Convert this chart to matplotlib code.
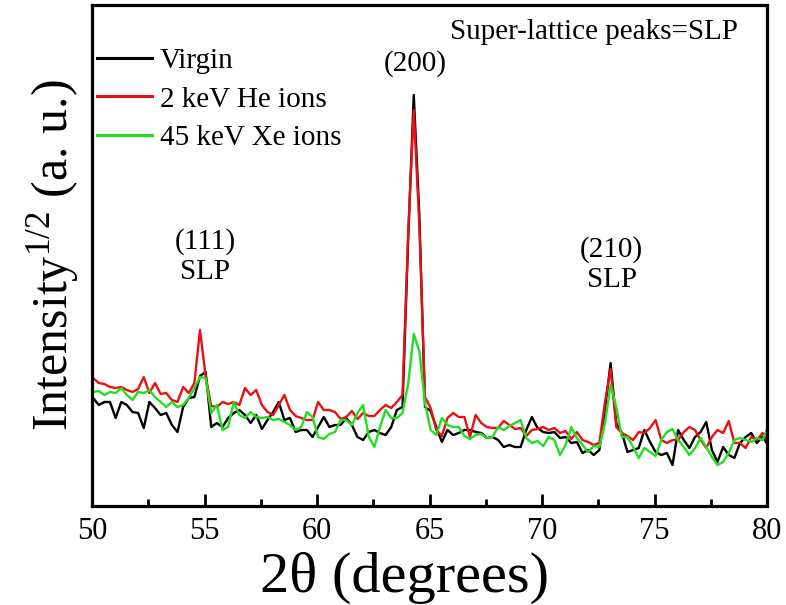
import numpy as np
import matplotlib
matplotlib.use("Agg")
import matplotlib.pyplot as plt
from matplotlib.ticker import MultipleLocator, NullLocator

plt.rcParams['font.family'] = ['Liberation Serif', 'DejaVu Serif']
plt.rcParams['mathtext.fontset'] = 'custom'
plt.rcParams['mathtext.rm'] = 'Liberation Serif'
plt.rcParams['mathtext.it'] = 'Liberation Serif:italic'

# 2-theta sampling (degrees)
two_theta = np.arange(49.8, 80.1, 0.25)

virgin = [106, 108, 101, 104, 104, 88, 104, 101, 94, 93, 78, 104, 98, 91, 93, 81, 74, 99, 108, 109,
          130, 134, 79, 83, 79, 88, 93, 96, 91, 83, 91, 77, 86, 94, 104, 86, 88, 74, 76, 76,
          69, 79, 89, 79, 81, 81, 88, 81, 69, 66, 74, 76, 73, 71, 79, 96, 99, 265, 411, 290,
          99, 95, 79, 64, 76, 71, 73, 76, 76, 74, 73, 68, 69, 66, 59, 61, 59, 59, 76, 89,
          78, 74, 73, 74, 68, 69, 63, 64, 53, 56, 51, 56, 97, 143, 83, 73, 54, 56, 58, 76,
          64, 54, 51, 53, 41, 76, 66, 58, 69, 74, 84, 56, 44, 59, 51, 48, 63, 69, 73, 63,
          69, 61]

he_2kev = [127, 128, 123, 122, 119, 118, 119, 116, 114, 117, 129, 113, 123, 112, 113, 106, 104, 119, 113, 123,
           176, 130, 100, 99, 104, 102, 104, 101, 118, 111, 116, 101, 94, 91, 101, 111, 96, 90, 88, 86,
           86, 104, 96, 96, 94, 87, 89, 95, 87, 93, 90, 90, 96, 101, 98, 104, 111, 272, 396, 280,
           109, 98, 76, 70, 88, 93, 89, 89, 69, 91, 83, 79, 78, 78, 85, 81, 77, 78, 70, 76,
           77, 79, 76, 78, 73, 75, 67, 74, 66, 64, 61, 63, 104, 137, 79, 73, 70, 66, 74, 73,
           78, 86, 66, 63, 66, 66, 74, 79, 76, 66, 58, 69, 76, 73, 85, 63, 63, 58, 69, 66,
           73, 63]

xe_45kev = [113, 114, 115, 111, 114, 113, 118, 111, 106, 114, 113, 116, 109, 104, 99, 104, 99, 101, 108, 118,
            129, 128, 93, 101, 76, 79, 104, 91, 88, 94, 89, 88, 89, 86, 87, 84, 81, 76, 79, 94,
            89, 69, 67, 72, 74, 86, 86, 81, 93, 101, 69, 59, 79, 96, 88, 88, 93, 122, 172, 155,
            103, 76, 71, 88, 81, 79, 79, 70, 67, 71, 72, 68, 69, 79, 76, 80, 83, 86, 68, 63,
            65, 60, 69, 66, 51, 61, 79, 68, 61, 54, 60, 59, 83, 121, 99, 69, 69, 59, 48, 58,
            54, 50, 66, 74, 77, 66, 59, 51, 58, 68, 59, 49, 41, 44, 53, 66, 68, 66, 64, 68,
            66, 79]

series = [(virgin, 'black', 'Virgin'),
          (he_2kev, '#e81010', '2 keV He ions'),
          (xe_45kev, '#22dd22', '45 keV Xe ions')]

xticks = [50, 55, 60, 65, 70, 75, 80]

W, H = 786, 605
fig = plt.figure(figsize=(W / 100, H / 100), dpi=100)
ax = fig.add_axes([92/W, 1 - 506/H, (767 - 92)/W, (506 - 5)/H])

for vals, col, lab in series:
    ax.plot(two_theta, vals, color=col, lw=1.7, label=lab)

ax.set_xlim(50, 80)
ax.set_ylim(0, 501)
ax.xaxis.set_major_locator(MultipleLocator(5))
ax.xaxis.set_minor_locator(MultipleLocator(2.5))
ax.set_xticks(xticks)
ax.set_xticklabels([str(t) for t in xticks])
ax.yaxis.set_major_locator(NullLocator())
ax.tick_params(axis='x', which='major', direction='in', length=9, width=2, labelsize=22, pad=8)
ax.tick_params(axis='x', which='minor', direction='in', length=5, width=2)
for sp in ax.spines.values():
    sp.set_linewidth(2.3)

fig.text(405/W, 1 - 578/H, '2θ (degrees)', fontsize=42, ha='center', va='center')
ax.set_ylabel('Intensity$^{1/2}$ (a. u.)', fontsize=36, labelpad=8)

leg = ax.legend(loc='upper left', bbox_to_anchor=(0.007, 0.915), frameon=False,
                fontsize=21, handlelength=1.9, handletextpad=0.27, labelspacing=0.42,
                borderaxespad=0.0, borderpad=0.0)
for l in leg.get_lines():
    l.set_linewidth(2.2)

fs = 21
ax.text(72.3, 474, 'Super-lattice peaks=SLP', fontsize=fs, ha='center', va='center')
ax.text(64.36, 442, '(200)', fontsize=fs, ha='center', va='center')
ax.text(55.02, 264, '(111)', fontsize=fs, ha='center', va='center')
ax.text(55.02, 234, 'SLP', fontsize=fs, ha='center', va='center')
ax.text(73.1, 256, '(210)', fontsize=fs, ha='center', va='center')
ax.text(73.1, 226, 'SLP', fontsize=fs, ha='center', va='center')

fig.savefig('out.png', dpi=100)
